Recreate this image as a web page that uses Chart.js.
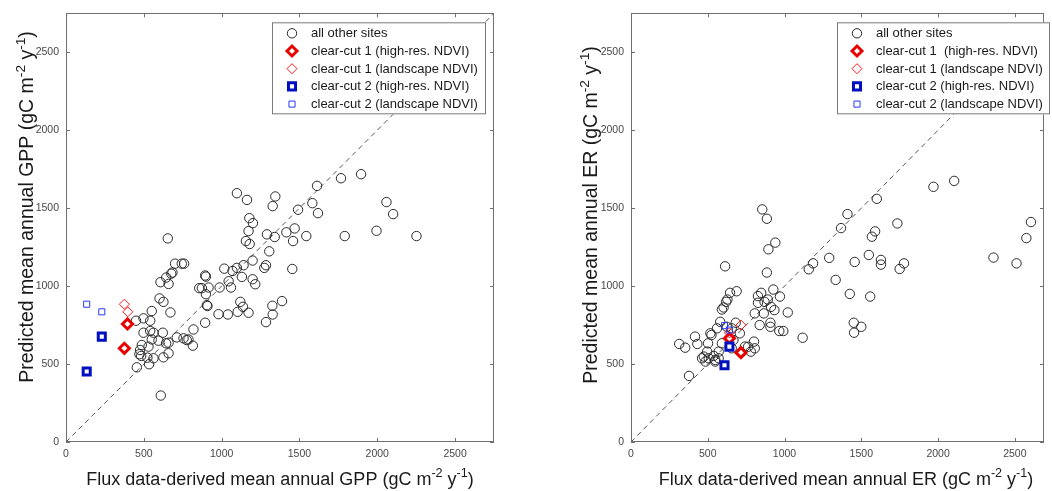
<!DOCTYPE html>
<html>
<head>
<meta charset="utf-8">
<script src="https://cdn.jsdelivr.net/npm/chart.js@4/dist/chart.umd.min.js"></script>
<style>
  html, body { margin: 0; padding: 0; background: #fff; overflow: hidden; }
  #gpp { position: absolute; left: 0; top: 0; }
  #er { position: absolute; left: 560px; top: 0; }
</style>
</head>
<body>
<canvas id="gpp" width="520" height="491"></canvas>
<canvas id="er" width="492" height="491"></canvas>
<script>
// tick values (both panels, both axes)
const tickValues = [0, 500, 1000, 1500, 2000, 2500];
const oneToOne = [0, 2750];

// ---- GPP panel ----
const gppOtherX = [1098, 1163, 1345, 1328, 1613, 1767, 1896, 2059, 2102, 1491,
  1583, 1619, 1178, 1201, 1173, 1156, 1180, 1291, 1341, 1416,
  1469, 1459, 1544, 1791, 1995, 2252, 654, 1306, 1199, 1141,
  1098, 1070, 1017, 1130, 1045, 1060, 987, 1199, 1216, 1274,
  1285, 1454, 894, 899, 856, 873, 916, 899, 701, 744,
  759, 676, 684, 644, 607, 659, 601, 626, 671, 905,
  909, 894, 980, 1040, 1103, 1120, 1137, 1173, 1285, 1328,
  1326, 1388, 819, 815, 787, 776, 755, 712, 659, 643,
  626, 659, 622, 551, 498, 541, 450, 498, 541, 562,
  551, 594, 487, 530, 476, 472, 483, 523, 562, 534,
  455, 609];
const gppOtherY = [1596, 1553, 1575, 1513, 1643, 1692, 1718, 1539, 1462, 1490,
  1532, 1468, 1436, 1404, 1353, 1289, 1270, 1332, 1315, 1345,
  1370, 1289, 1321, 1321, 1355, 1321, 1306, 1223, 1164, 1134,
  1117, 1097, 1112, 1059, 1031, 991, 991, 1044, 1012, 1117,
  1134, 1110, 1068, 1061, 987, 987, 991, 948, 1144, 1144,
  1144, 1080, 1087, 1055, 1025, 1014, 921, 899, 831, 878,
  872, 765, 820, 818, 835, 899, 867, 829, 769, 818,
  874, 904, 722, 618, 658, 654, 665, 671, 637, 633,
  543, 569, 701, 840, 793, 778, 778, 701, 712, 701,
  658, 650, 622, 612, 590, 563, 552, 541, 537, 499,
  479, 298];
const gppCut1HiX = [395, 375];
const gppCut1HiY = [757, 601];
const gppCut1LandX = [375, 397];
const gppCut1LandY = [884, 835];
const gppCut2HiX = [230, 133];
const gppCut2HiY = [676, 452];
const gppCut2LandX = [133, 230];
const gppCut2LandY = [884, 835];
const gppLabels = ['all other sites', 'clear-cut 1 (high-res. NDVI)', 'clear-cut 1 (landscape NDVI)',
  'clear-cut 2 (high-res. NDVI)', 'clear-cut 2 (landscape NDVI)'];

// ---- ER panel ----
const erOtherX = [855, 885, 940, 895, 885, 613, 1410, 1368, 1601, 1970,
  2105, 1735, 1590, 1569, 1291, 1457, 1549, 1628, 1628, 1778,
  1750, 1186, 1158, 1333, 1425, 1558, 1451, 1453, 1500, 2361,
  2511, 2575, 2605, 1118, 1021, 970, 927, 992, 966, 908,
  908, 912, 934, 891, 848, 827, 827, 865, 806, 838,
  870, 688, 645, 628, 620, 603, 592, 581, 682, 656,
  801, 806, 780, 742, 709, 560, 524, 502, 417, 432,
  314, 353, 378, 496, 474, 485, 506, 549, 539, 571,
  571, 592, 656, 667, 463, 549, 517, 624, 763];
const erOtherY = [1492, 1432, 1279, 1236, 1087, 1127, 1462, 1372, 1560, 1637,
  1675, 1402, 1351, 1317, 1181, 1155, 1200, 1168, 1138, 1146,
  1110, 1146, 1108, 1040, 950, 933, 765, 701, 739, 1183,
  1146, 1308, 1411, 669, 831, 933, 978, 712, 712, 765,
  739, 867, 846, 914, 957, 936, 893, 825, 825, 750,
  899, 967, 957, 914, 899, 863, 850, 771, 765, 729,
  644, 601, 580, 612, 697, 729, 686, 633, 676, 629,
  629, 605, 424, 580, 548, 516, 537, 516, 552, 580,
  537, 633, 601, 654, 537, 526, 697, 739, 611];
const erCut1HiX = [641, 716];
const erCut1HiY = [665, 573];
const erCut1LandX = [716, 641];
const erCut1LandY = [750, 700];
const erCut2HiX = [641, 609];
const erCut2HiY = [612, 492];
const erCut2LandX = [609, 641];
const erCut2LandY = [746, 718];
const erLabels = ['all other sites', 'clear-cut 1  (high-res. NDVI)', 'clear-cut 1 (landscape NDVI)',
  'clear-cut 2 (high-res. NDVI)', 'clear-cut 2 (landscape NDVI)'];

const gppXTitle = [['Flux data-derived mean annual GPP (gC m'], ['-2', 1], [' y'], ['-1', 1], [')']];
const gppYTitle = [['Predicted mean annual GPP (gC m'], ['-2', 1], [' y'], ['-1', 1], [')']];
const erXTitle = [['Flux data-derived mean annual ER (gC m'], ['-2', 1], [' y'], ['-1', 1], [')']];
const erYTitle = [['Predicted mean annual ER (gC m'], ['-2', 1], [' y'], ['-1', 1], [')']];

const FONT = "'Liberation Sans', Arial, sans-serif";

// marker styles, same order as the legend labels
const markers = [
  { pointStyle: 'circle', radius: 4.7, borderWidth: 1, border: '#2a2a2a', fill: 'rgba(0,0,0,0)' },
  { pointStyle: 'rectRot', radius: 5, borderWidth: 3, border: '#e80000', fill: '#ffffff' },
  { pointStyle: 'rectRot', radius: 5, borderWidth: 1, border: '#ff1a1a', fill: 'rgba(0,0,0,0)' },
  { pointStyle: 'rect', radius: 5, borderWidth: 3, border: '#0010c0', fill: '#ffffff' },
  { pointStyle: 'rect', radius: 4.3, borderWidth: 1, border: '#2638ff', fill: 'rgba(0,0,0,0)' }
];

function pts(xs, ys) {
  return xs.map((x, i) => ({ x: x, y: ys[i] }));
}

function drawRich(ctx, parts, size) {
  // measures and draws text with superscripts, centred on 0 along the baseline
  const supSize = size * 0.7;
  let w = 0;
  parts.forEach(p => {
    ctx.font = (p[1] ? supSize : size) + 'px ' + FONT;
    w += ctx.measureText(p[0]).width;
  });
  let x = -w / 2;
  parts.forEach(p => {
    ctx.font = (p[1] ? supSize : size) + 'px ' + FONT;
    ctx.fillText(p[0], x, p[1] ? -size * 0.42 : 0);
    x += ctx.measureText(p[0]).width;
  });
}

function makeChart(id, c) {
  const series = [[c.otherX, c.otherY], [c.cut1HiX, c.cut1HiY], [c.cut1LandX, c.cut1LandY],
    [c.cut2HiX, c.cut2HiY], [c.cut2LandX, c.cut2LandY]];
  const datasets = series.map((s, i) => ({
    label: c.labels[i],
    data: pts(s[0], s[1]),
    pointStyle: markers[i].pointStyle,
    pointRadius: markers[i].radius,
    pointBorderWidth: markers[i].borderWidth,
    pointBorderColor: markers[i].border,
    pointBackgroundColor: markers[i].fill,
    order: 5 - i
  }));
  datasets.push({
    label: '1:1',
    data: pts(oneToOne, oneToOne),
    showLine: true,
    pointRadius: 0,
    borderColor: '#555555',
    borderWidth: 1,
    borderDash: [5, 4],
    order: 20
  });

  const frame = {
    id: 'frame',
    afterDatasetsDraw(chart) {
      const ctx = chart.ctx, a = chart.chartArea;
      const xs = chart.scales.x, ys = chart.scales.y;
      ctx.save();
      ctx.strokeStyle = '#707070';
      ctx.lineWidth = 1;
      ctx.strokeRect(Math.round(a.left) + 0.5, Math.round(a.top) + 0.5,
        Math.round(a.right - a.left) - 1, Math.round(a.bottom - a.top) - 1);
      ctx.beginPath();
      tickValues.forEach(v => {
        const px = Math.round(xs.getPixelForValue(v)) + 0.5;
        if (px < a.right - 1) {
          ctx.moveTo(px, a.bottom); ctx.lineTo(px, a.bottom - 4);
          ctx.moveTo(px, a.top); ctx.lineTo(px, a.top + 4);
        }
        const py = Math.round(ys.getPixelForValue(v)) + 0.5;
        ctx.moveTo(a.left, py); ctx.lineTo(a.left + 4, py);
        ctx.moveTo(a.right, py); ctx.lineTo(a.right - 4, py);
      });
      ctx.stroke();

      // legend inside the axes, top right
      const lx = c.legendLeft, ly = a.top + 9, lw = c.legendWidth, lh = 92;
      ctx.fillStyle = '#ffffff';
      ctx.fillRect(lx, ly, lw, lh);
      ctx.strokeStyle = '#7a7a7a';
      ctx.strokeRect(lx + 0.5, ly + 0.5, lw - 1, lh - 1);
      c.labels.forEach((lab, i) => {
        const yy = ly + 11 + i * 17.7;
        const m = markers[i];
        ctx.strokeStyle = m.border;
        ctx.fillStyle = m.fill;
        ctx.lineWidth = m.borderWidth;
        Chart.helpers.drawPoint(ctx, { pointStyle: m.pointStyle, radius: m.radius, borderWidth: m.borderWidth, rotation: 0 }, lx + 20, yy);
        ctx.fillStyle = '#1a1a1a';
        ctx.font = '13px ' + FONT;
        ctx.textBaseline = 'middle';
        ctx.textAlign = 'left';
        ctx.fillText(lab, lx + 39, yy + 0.5);
      });
      ctx.restore();
    },
    afterDraw(chart) {
      const ctx = chart.ctx;
      ctx.save();
      ctx.fillStyle = '#1a1a1a';
      ctx.textBaseline = 'alphabetic';
      ctx.textAlign = 'left';
      ctx.translate(c.xTitleX, 485);
      drawRich(ctx, c.xTitle, 18);
      ctx.restore();
      ctx.save();
      ctx.fillStyle = '#1a1a1a';
      ctx.textBaseline = 'alphabetic';
      ctx.textAlign = 'left';
      ctx.translate(c.yTitleX, c.yTitleY);
      ctx.rotate(-Math.PI / 2);
      drawRich(ctx, c.yTitle, 19.5);
      ctx.restore();
    }
  };

  const tickFont = { family: FONT, size: 10.5 };
  const plain = v => String(v);
  return new Chart(document.getElementById(id), {
    type: 'scatter',
    data: { datasets: datasets },
    plugins: [frame],
    options: {
      responsive: false,
      animation: false,
      layout: { padding: { left: 0, top: 12, right: c.padRight, bottom: 0 } },
      plugins: { legend: { display: false }, tooltip: { enabled: false } },
      scales: {
        x: {
          type: 'linear', min: 0, max: c.xMax,
          grid: { display: false, drawTicks: false }, border: { display: false },
          ticks: { font: tickFont, color: '#484848', padding: 6, maxRotation: 0, callback: plain },
          afterBuildTicks: s => { s.ticks = tickValues.map(v => ({ value: v })); },
          afterFit: s => { s.height = 49; }
        },
        y: {
          type: 'linear', min: 0, max: 2750,
          grid: { display: false, drawTicks: false }, border: { display: false },
          ticks: { font: tickFont, color: '#484848', padding: 7, callback: plain },
          afterBuildTicks: s => { s.ticks = tickValues.map(v => ({ value: v })); },
          afterFit: s => { s.width = c.yWidth; }
        }
      }
    }
  });
}

makeChart('gpp', {
  otherX: gppOtherX, otherY: gppOtherY,
  cut1HiX: gppCut1HiX, cut1HiY: gppCut1HiY, cut1LandX: gppCut1LandX, cut1LandY: gppCut1LandY,
  cut2HiX: gppCut2HiX, cut2HiY: gppCut2HiY, cut2LandX: gppCut2LandX, cut2LandY: gppCut2LandY,
  labels: gppLabels, xTitle: gppXTitle, yTitle: gppYTitle,
  xMax: 2750, yWidth: 66, padRight: 26,
  legendLeft: 272, legendWidth: 214,
  xTitleX: 280, yTitleX: 33, yTitleY: 207
});

makeChart('er', {
  otherX: erOtherX, otherY: erOtherY,
  cut1HiX: erCut1HiX, cut1HiY: erCut1HiY, cut1LandX: erCut1LandX, cut1LandY: erCut1LandY,
  cut2HiX: erCut2HiX, cut2HiY: erCut2HiY, cut2LandX: erCut2LandX, cut2LandY: erCut2LandY,
  labels: erLabels, xTitle: erXTitle, yTitle: erYTitle,
  xMax: 2690, yWidth: 71, padRight: 2,
  legendLeft: 277, legendWidth: 213,
  xTitleX: 286, yTitleX: 37, yTitleY: 215
});
</script>
</body>
</html>
